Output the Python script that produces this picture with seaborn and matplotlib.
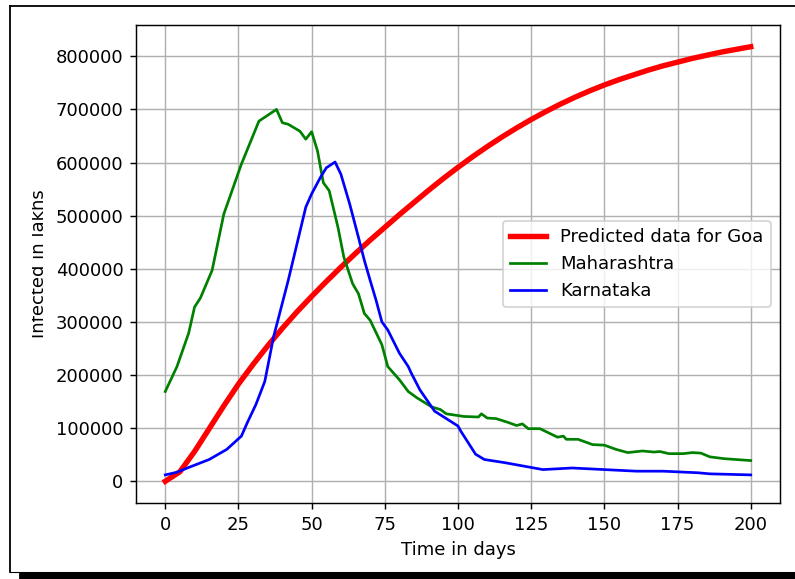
import matplotlib
matplotlib.use("Agg")
import matplotlib.pyplot as plt
import seaborn as sns
from matplotlib.lines import Line2D
from matplotlib.patches import Rectangle
from matplotlib.transforms import Bbox, TransformedBbox, IdentityTransform

# ---------------- data ----------------
goa_days = [0, 5, 10, 15, 20, 25, 30, 35, 40, 45, 50, 55, 60, 65, 70, 75, 80, 85, 90, 95,
            100, 105, 110, 115, 120, 125, 130, 135, 140, 145, 150, 155, 160, 165, 170, 175,
            180, 185, 190, 195, 200]
goa_pred = [0, 18000, 56000, 99000, 142000, 183000, 220000, 255000, 288000, 319000,
            348000, 376000, 403000, 429000, 454000, 478000, 502000, 525000, 548000, 570000,
            591000, 611000, 630000, 648000, 665000, 681000, 696000, 710000, 723000, 735000,
            746000, 756000, 765000, 774000, 782000, 789000, 796000, 802000, 808000, 813000,
            818000]

mh_days = [0, 4, 8, 10, 12, 16, 20, 26, 32, 38, 40, 42, 46, 48, 50, 52, 54, 56, 59, 61,
           64, 66, 68, 70, 74, 76, 80, 83, 86, 91, 94, 96, 102, 107, 108, 110, 113, 117,
           120, 122, 124, 128, 134, 136, 137, 141, 146, 150, 154, 158, 163, 167, 169, 172,
           177, 180, 183, 186, 191, 200]
mh_vals = [169000, 216000, 279000, 328000, 345000, 397000, 503000, 597000, 678000, 700000,
           675000, 672000, 659000, 644000, 658000, 622000, 562000, 547000, 478000, 422000,
           372000, 353000, 316000, 303000, 257000, 216000, 191000, 169000, 157000, 140000,
           135000, 127000, 122000, 121000, 127000, 119000, 118000, 111000, 105000, 108000,
           99000, 99000, 83000, 85000, 79000, 79000, 69000, 68000, 60000, 54000,
           57000, 55000, 56000, 52000, 52000, 54000, 53000, 46000, 42500, 39000]

ka_days = [0, 4, 8, 15, 21, 26, 28, 31, 34, 37, 42, 45, 48, 50, 53, 55, 58, 60, 63, 66,
           68, 70, 72, 74, 76, 80, 83, 84, 87, 92, 100, 101, 106, 109, 116, 125, 129, 139,
           150, 161, 170, 182, 186, 200]
ka_vals = [12000, 17000, 26000, 41000, 60000, 85000, 110000, 145000, 188000, 272000,
           378000, 447000, 516000, 541000, 572000, 590000, 601000, 578000, 522000, 459000,
           416000, 378000, 341000, 300000, 285000, 241000, 216000, 204000, 172000, 132000,
           104000, 94000, 51000, 41000, 35000, 26000, 22000, 25000,
           22000, 19000, 19000, 16000, 14000, 12000]

# ---------------- figure ----------------
DPI = 130
W, H = 795, 579
fig = plt.figure(figsize=(W / DPI, H / DPI), dpi=DPI)
ax = fig.add_axes([136 / W, 1 - 503 / H, (780 - 136) / W, (503 - 25) / H])

sns.lineplot(x=goa_days, y=goa_pred, color="red", linewidth=3.0,
             label="Predicted data for Goa", ax=ax)
sns.lineplot(x=mh_days, y=mh_vals, color="green", linewidth=1.5,
             label="Maharashtra", ax=ax)
sns.lineplot(x=ka_days, y=ka_vals, color="blue", linewidth=1.5,
             label="Karnataka", ax=ax)

ax.grid(True)
ax.set_xticks([0, 25, 50, 75, 100, 125, 150, 175, 200])
ax.set_yticks([0, 100000, 200000, 300000, 400000, 500000, 600000, 700000, 800000])
ax.set_xlabel("Time in days")
ylab = ax.set_ylabel("Infected in lakhs")
ax.legend(loc="center right")

# the original figure edge clipped the y label
clip = TransformedBbox(Bbox([[32, 0], [W, H]]), IdentityTransform())
ylab.set_clip_box(clip)
ylab.set_clip_on(True)

# screenshot frame
def fx(x):
    return x / W

def fy(y):
    return 1 - y / H

fig.add_artist(Line2D([fx(10), fx(10)], [fy(6), fy(572)], color="black", lw=1.0,
                      transform=fig.transFigure))
fig.add_artist(Line2D([fx(10), fx(W)], [fy(6), fy(6)], color="black", lw=1.0,
                      transform=fig.transFigure))
fig.add_artist(Line2D([fx(10), fx(W)], [fy(572), fy(572)], color="black", lw=0.6,
                      transform=fig.transFigure))
fig.add_artist(Rectangle((fx(20), 0), fx(W) - fx(20), fy(573), color="black",
                         transform=fig.transFigure))

fig.savefig("out.png", dpi=DPI)
